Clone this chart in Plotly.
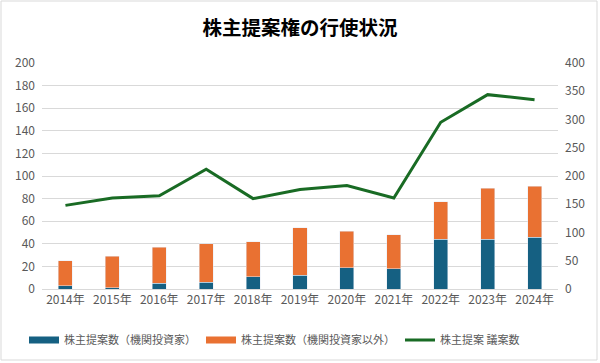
import plotly.graph_objects as go

years = ["2014年","2015年","2016年","2017年","2018年","2019年","2020年","2021年","2022年","2023年","2024年"]
inst = [3, 1, 5, 6, 11, 12, 19, 18, 44, 44, 46]
total = [25, 29, 37, 40, 42, 54, 51, 48, 77, 89, 91]
non_inst = [t - i for t, i in zip(total, inst)]
proposals = [148, 161, 165, 212, 160, 176, 183, 161, 295, 344, 335]

names = ["株主提案数（機関投資家）", "株主提案数（機関投資家以外）", "株主提案 議案数"]
colors = ["#156082", "#E97132", "#196B24"]

font = "Noto Sans CJK JP"
tick_color = "#595959"

fig = go.Figure()
fig.add_trace(go.Bar(x=years, y=inst, name=names[0], marker_color=colors[0], width=0.3, showlegend=False))
fig.add_trace(go.Bar(x=years, y=non_inst, name=names[1], marker_color=colors[1], width=0.3, showlegend=False))
fig.add_trace(go.Scatter(x=years, y=proposals, name=names[2], mode="lines",
                         line=dict(color=colors[2], width=3), yaxis="y2", showlegend=False))
# legend entries (wide rectangles like the original)
for n, c, w in zip(names, colors, [7, 7, 3]):
    fig.add_trace(go.Scatter(x=[None], y=[None], name=n, mode="lines", line=dict(color=c, width=w)))

fig.update_layout(
    width=600, height=363,
    barmode="stack",
    paper_bgcolor="white", plot_bgcolor="white",
    font=dict(family=font, size=12, color=tick_color),
    title=dict(text="<b>株主提案権の行使状況</b>", x=0.5, xanchor="center", xref="paper",
               y=1 - 28 / 363, yanchor="middle", yref="container",
               font=dict(family=font, size=19.5, color="#000000")),
    margin=dict(l=42, r=42, t=63, b=74, autoexpand=False),
    xaxis=dict(showgrid=False, showline=True, linecolor="#D9D9D9", ticks="", automargin=False,
               tickfont=dict(size=12, color=tick_color)),
    yaxis=dict(range=[0, 200], dtick=20, gridcolor="#D9D9D9", zeroline=False, showline=False, automargin=False,
               tickfont=dict(size=12, color=tick_color), ticklabelstandoff=6),
    yaxis2=dict(range=[0, 400], dtick=50, overlaying="y", side="right", showgrid=False, zeroline=False,
                automargin=False, tickfont=dict(size=12, color=tick_color), ticklabelstandoff=6),
    legend=dict(orientation="h", xref="container", yref="container", x=24 / 600, xanchor="left",
                y=1 - 340 / 363, yanchor="middle",
                font=dict(size=11, color=tick_color), traceorder="normal", itemwidth=30,
                tracegroupgap=0),
    shapes=[dict(type="rect", xref="paper", yref="paper", x0=-41 / 516, x1=1 + 39 / 516,
                 y0=-71 / 226, y1=1 + 62 / 226, line=dict(color="#D9D9D9", width=1))],
)

fig.write_html("out.html", config={"displayModeBar": False},
               post_script="document.body.style.margin='0';")
